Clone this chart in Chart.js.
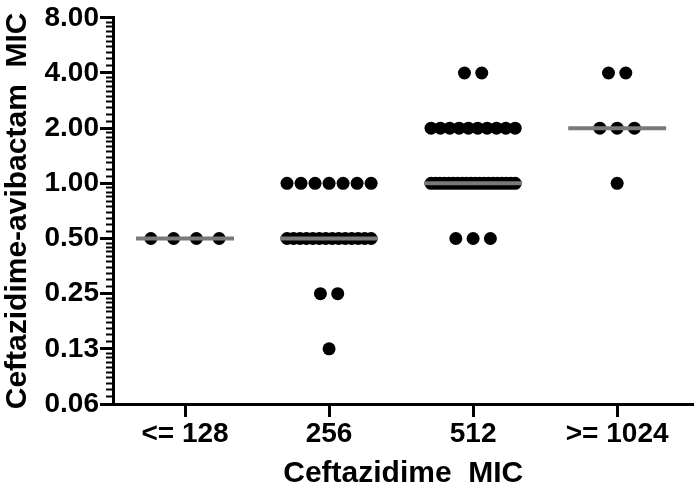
<!DOCTYPE html>
<html>
<head>
<meta charset="utf-8">
<script src="https://cdn.jsdelivr.net/npm/chart.js@4/dist/chart.umd.min.js"></script>
<style>
  html, body { margin: 0; padding: 0; background: #fff; }
  #wrap { width: 700px; height: 492px; position: relative; }
</style>
</head>
<body>
<div id="wrap"><canvas id="c" width="700" height="492"></canvas></div>
<script>
// ---- data ----
const categories = ['<= 128', '256', '512', '>= 1024'];
const micLE128 = [0.5, 0.5, 0.5, 0.5];
const mic256 = [1, 1, 1, 1, 1, 1, 1,
                0.5, 0.5, 0.5, 0.5, 0.5, 0.5, 0.5, 0.5, 0.5, 0.5, 0.5, 0.5, 0.5, 0.5,
                0.25, 0.25,
                0.125];
const mic512 = [4, 4,
                2, 2, 2, 2, 2, 2, 2, 2, 2, 2,
                1, 1, 1, 1, 1, 1, 1, 1, 1, 1, 1, 1, 1, 1, 1, 1, 1, 1, 1, 1,
                0.5, 0.5, 0.5];
const micGE1024 = [4, 4, 2, 2, 2, 1];
const yTickValues = [0.0625, 0.125, 0.25, 0.5, 1, 2, 4, 8];
const yTickLabels = ['0.06', '0.13', '0.25', '0.50', '1.00', '2.00', '4.00', '8.00'];
const groups = [micLE128, mic256, mic512, micGE1024];

// ---- helpers ----
function median(arr) {
  const s = arr.slice().sort((a, b) => a - b);
  const m = Math.floor(s.length / 2);
  return s.length % 2 ? s[m] : (s[m - 1] + s[m]) / 2;
}
// column-scatter layout: spread equal values horizontally around the category
function spread(values, idx) {
  const counts = {};
  values.forEach(v => { counts[v] = (counts[v] || 0) + 1; });
  const seen = {};
  return values.map(v => {
    const n = counts[v];
    const k = seen[v] = (seen[v] === undefined ? 0 : seen[v] + 1);
    const step = n <= 3 ? 0.12 : Math.min(0.158, 0.584 / (n - 1));
    return { x: idx + (k - (n - 1) / 2) * step, y: v };
  });
}

const FONT = "'Liberation Sans', Arial, Helvetica, sans-serif";
const datasets = [];
groups.forEach((g, i) => {
  const med = median(g);
  datasets.push({
    type: 'line',
    data: [{ x: i - 0.34, y: med }, { x: i + 0.34, y: med }],
    borderColor: '#7a7a7a',
    borderWidth: 4,
    pointRadius: 0,
    order: 0
  });
  datasets.push({
    type: 'scatter',
    data: spread(g, i),
    backgroundColor: '#000',
    borderColor: '#000',
    borderWidth: 0,
    pointRadius: 6.5,
    order: 1
  });
});

const minorTicks = {
  id: 'minorTicks',
  afterDraw(chart) {
    const y = chart.scales.y;
    const ctx = chart.ctx;
    const left = chart.chartArea.left;
    ctx.save();
    ctx.strokeStyle = '#000';
    ctx.lineWidth = 2;
    for (let i = 0; i < yTickValues.length - 1; i++) {
      const a = yTickValues[i];
      for (let k = 1; k <= 9; k++) {
        const v = a + k * a / 10;
        const py = Math.round(y.getPixelForValue(v)) + 0.5;
        ctx.beginPath();
        ctx.moveTo(left - 7, py);
        ctx.lineTo(left, py);
        ctx.stroke();
      }
    }
    ctx.restore();
  }
};

new Chart(document.getElementById('c'), {
  data: { datasets },
  options: {
    responsive: false,
    animation: false,
    events: [],
    layout: { padding: { top: 15, right: 0, left: 0, bottom: 0 } },
    plugins: { legend: { display: false }, tooltip: { enabled: false } },
    scales: {
      x: {
        type: 'linear',
        min: -0.5,
        max: 3.53,
        afterBuildTicks: s => { s.ticks = categories.map((c, i) => ({ value: i })); },
        afterFit: s => { s.height = 88; },
        ticks: {
          callback: (v) => categories[v],
          color: '#000',
          font: { family: FONT, size: 28, weight: 'bold' },
          padding: 0,
          maxRotation: 0,
          autoSkip: false
        },
        grid: { drawOnChartArea: false, color: '#000', tickLength: 13, tickWidth: 3 },
        border: { color: '#000', width: 3 },
        title: {
          display: true,
          text: 'Ceftazidime  MIC',
          color: '#000',
          font: { family: FONT, size: 30, weight: 'bold' },
          padding: { top: 4, bottom: 0 }
        }
      },
      y: {
        type: 'logarithmic',
        min: 0.0625,
        max: 8,
        afterBuildTicks: s => { s.ticks = yTickValues.map(v => ({ value: v })); },
        afterFit: s => { s.width = 113; },
        ticks: {
          callback: (v, i) => yTickLabels[i],
          color: '#000',
          font: { family: FONT, size: 28, weight: 'bold' },
          padding: 1,
          autoSkip: false
        },
        grid: { drawOnChartArea: false, color: '#000', tickLength: 13, tickWidth: 3 },
        border: { color: '#000', width: 3 },
        title: {
          display: true,
          text: 'Ceftazidime-avibactam  MIC',
          color: '#000',
          font: { family: FONT, size: 30, weight: 'bold' },
          padding: { top: 0, bottom: 0 }
        }
      }
    }
  },
  plugins: [minorTicks]
});
</script>
</body>
</html>
